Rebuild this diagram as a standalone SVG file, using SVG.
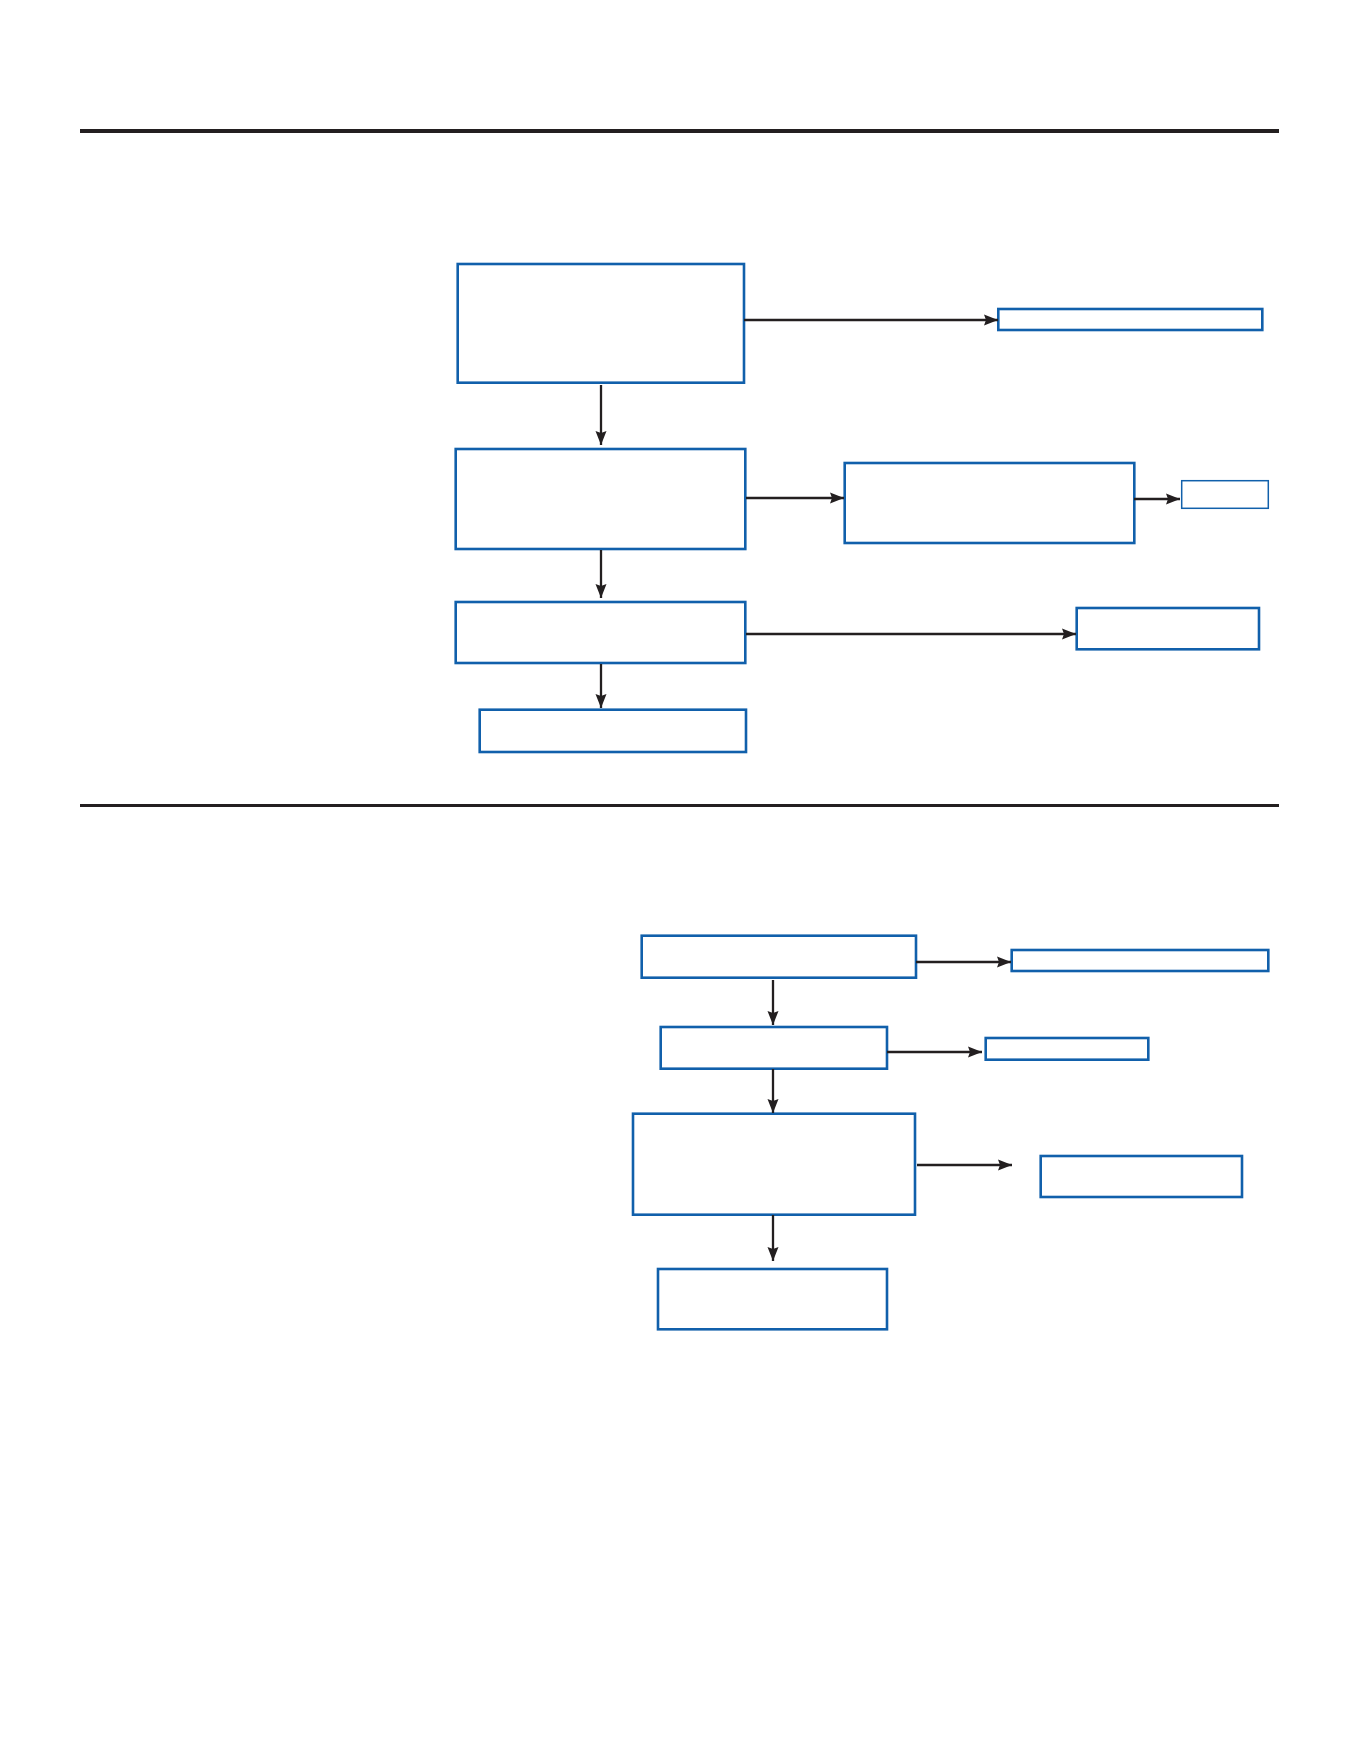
<svg xmlns="http://www.w3.org/2000/svg" width="1361" height="1761" viewBox="0 0 1361 1761">
<style>
.node rect{fill:#fff;stroke:#1160ab;stroke-width:2.6}
.node.thin rect{stroke-width:1.5}
.rule{stroke:#231f20}
.conn line{stroke:#231f20;stroke-width:2.3;fill:none}
</style>
<defs>
<marker id="ah" markerUnits="userSpaceOnUse" markerWidth="15" markerHeight="13" viewBox="0 0 15 13" refX="14" refY="6.5" orient="auto">
<path d="M0,1 L14,6.5 L0,12 L2,6.5 Z" fill="#231f20"/>
</marker>
</defs>
<rect width="1361" height="1761" fill="#fff"/>
<line class="rule" x1="80" y1="131" x2="1279" y2="131" stroke-width="4"/>
<line class="rule" x1="80" y1="805.5" x2="1279" y2="805.5" stroke-width="3.2"/>
<g id="n1" class="node"><rect x="457.7" y="264" width="286.3" height="118.7"/></g>
<g id="n2" class="node"><rect x="998.3" y="309" width="264" height="21"/></g>
<g id="n3" class="node"><rect x="455.7" y="449" width="289.6" height="100"/></g>
<g id="n4" class="node"><rect x="844.7" y="463" width="289.6" height="80"/></g>
<g id="n5" class="node thin"><rect x="1181.7" y="480.7" width="86.6" height="27.6"/></g>
<g id="n6" class="node"><rect x="455.7" y="602" width="289.6" height="61"/></g>
<g id="n7" class="node"><rect x="1076.7" y="608" width="182.3" height="41.3"/></g>
<g id="n8" class="node"><rect x="479.7" y="709.7" width="266.3" height="42.3"/></g>
<g id="n9" class="node"><rect x="641.7" y="935.7" width="274.3" height="42"/></g>
<g id="n10" class="node"><rect x="1011.7" y="950" width="256.6" height="21"/></g>
<g id="n11" class="node"><rect x="660.7" y="1027" width="226.3" height="41.7"/></g>
<g id="n12" class="node"><rect x="985.7" y="1038" width="162.6" height="21.7"/></g>
<g id="n13" class="node"><rect x="633" y="1113.7" width="282" height="101"/></g>
<g id="n14" class="node"><rect x="1040.7" y="1156" width="201.3" height="41"/></g>
<g id="n15" class="node"><rect x="658" y="1269" width="229" height="60.3"/></g>
<g id="connectors" class="conn">
<line x1="744" y1="320" x2="998" y2="320" marker-end="url(#ah)"/>
<line x1="601" y1="385" x2="601" y2="445" marker-end="url(#ah)"/>
<line x1="746" y1="498" x2="844" y2="498" marker-end="url(#ah)"/>
<line x1="1134" y1="499" x2="1180" y2="499" marker-end="url(#ah)"/>
<line x1="601" y1="550" x2="601" y2="598" marker-end="url(#ah)"/>
<line x1="746" y1="634" x2="1076" y2="634" marker-end="url(#ah)"/>
<line x1="601" y1="664" x2="601" y2="708" marker-end="url(#ah)"/>
<line x1="916" y1="962" x2="1011" y2="962" marker-end="url(#ah)"/>
<line x1="773" y1="980" x2="773" y2="1025" marker-end="url(#ah)"/>
<line x1="887" y1="1052" x2="982" y2="1052" marker-end="url(#ah)"/>
<line x1="773" y1="1069" x2="773" y2="1113" marker-end="url(#ah)"/>
<line x1="917" y1="1165" x2="1012" y2="1165" marker-end="url(#ah)"/>
<line x1="773" y1="1215" x2="773" y2="1261" marker-end="url(#ah)"/>
</g>
</svg>
